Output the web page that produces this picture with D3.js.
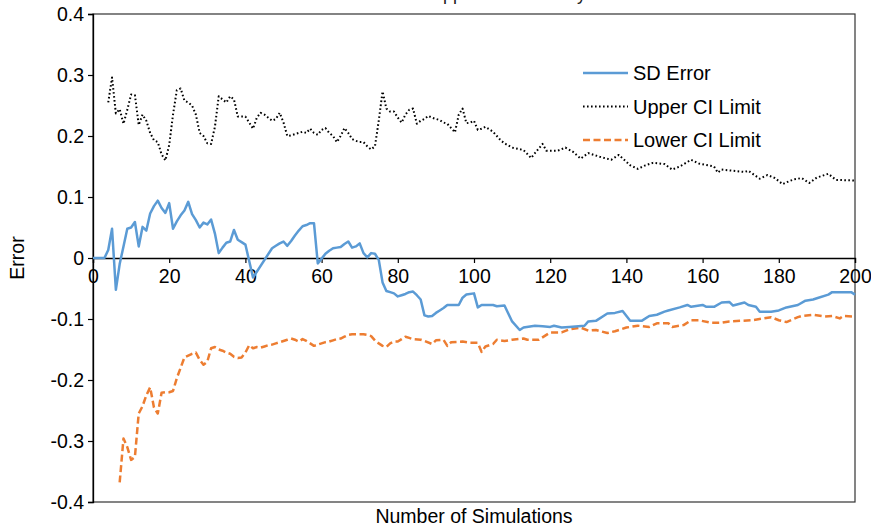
<!DOCTYPE html>
<html>
<head>
<meta charset="utf-8">
<script src="https://cdn.jsdelivr.net/npm/d3@7"></script>
<style>
  html, body { margin: 0; padding: 0; background: #fff; }
  svg { display: block; font-family: "Liberation Sans", Arial, sans-serif; }
</style>
</head>
<body>
<svg id="chart" width="871" height="531"></svg>
<script>
// Number of simulations (x) and the SD error estimate at each
const sdX   = [0,3,4,5,6,7,8,9,10,11,12,13,14,15,16,17,18,19,20,21,22,23,24,25,26,27,28,29,30,31,32,33,34,35,36,37,38,39,40,42,47,48,49,50,51,52,53,54,55,56,57,58,59,60,61,62,63,64,65,66,67,68,69,70,71,72,73,74,75,76,77,78,79,80,81,82,83,84,85,86,87,88,89,90,91,92,93,96,97,98,100,101,102,105,106,108,110,112,113,116,118,120,121,123,125,129,130,132,135,137,139,141,144,146,148,150,151,154,156,157,160,161,163,165,167,168,171,172,174,175,178,180,182,185,187,189,190,193,194,199,200];
const sdErr = [0,0,0.013,0.048,-0.052,-0.01,0.019,0.048,0.05,0.059,0.019,0.051,0.045,0.073,0.085,0.094,0.082,0.074,0.09,0.048,0.06,0.07,0.078,0.092,0.072,0.062,0.05,0.058,0.055,0.063,0.04,0.008,0.017,0.025,0.027,0.046,0.03,0.026,0.022,-0.032,0.016,0.02,0.024,0.027,0.02,0.028,0.037,0.045,0.052,0.054,0.057,0.057,-0.009,-0.001,0.007,0.012,0.016,0.017,0.018,0.023,0.027,0.017,0.019,0.024,0.008,0.001,0.008,0.007,-0.003,-0.04,-0.054,-0.056,-0.058,-0.063,-0.061,-0.059,-0.056,-0.055,-0.061,-0.068,-0.094,-0.096,-0.095,-0.09,-0.086,-0.082,-0.077,-0.077,-0.065,-0.06,-0.058,-0.081,-0.077,-0.077,-0.079,-0.078,-0.104,-0.118,-0.114,-0.111,-0.112,-0.113,-0.111,-0.114,-0.113,-0.111,-0.104,-0.103,-0.091,-0.09,-0.087,-0.103,-0.103,-0.095,-0.093,-0.088,-0.086,-0.081,-0.077,-0.08,-0.077,-0.08,-0.08,-0.073,-0.072,-0.078,-0.073,-0.077,-0.08,-0.088,-0.088,-0.086,-0.081,-0.077,-0.07,-0.068,-0.066,-0.06,-0.056,-0.056,-0.06];

// Upper confidence-interval limit
const upperX  = [4,5,6,7,8,9,10,11,12,13,14,15,16,17,18,19,20,21,22,23,24,25,26,27,28,29,30,31,32,33,34,35,36,37,38,39,40,41,42,43,44,45,46,47,48,49,50,51,52,53,54,55,56,57,58,59,60,61,62,63,64,65,66,67,68,69,70,71,72,73,74,75,76,77,78,79,80,81,82,83,84,85,86,87,88,89,90,91,92,93,94,95,96,97,98,99,100,101,102,103,104,105,106,107,108,110,113,115,116,118,119,122,124,126,128,130,133,136,138,141,143,145,147,150,152,154,157,159,163,164,165,168,171,172,175,177,179,181,182,184,186,188,190,193,195,200];
const upperCI = [0.255,0.296,0.237,0.244,0.22,0.243,0.268,0.267,0.218,0.235,0.225,0.205,0.193,0.19,0.17,0.16,0.185,0.235,0.275,0.278,0.258,0.255,0.25,0.235,0.205,0.2,0.188,0.187,0.215,0.265,0.26,0.255,0.265,0.26,0.232,0.232,0.232,0.222,0.212,0.23,0.238,0.235,0.23,0.225,0.228,0.238,0.222,0.2,0.201,0.203,0.205,0.207,0.205,0.212,0.205,0.202,0.21,0.213,0.205,0.2,0.19,0.2,0.213,0.205,0.195,0.192,0.19,0.19,0.183,0.178,0.183,0.225,0.273,0.245,0.24,0.24,0.23,0.222,0.235,0.243,0.245,0.22,0.225,0.228,0.233,0.23,0.228,0.226,0.222,0.22,0.213,0.206,0.235,0.245,0.221,0.222,0.225,0.21,0.212,0.215,0.211,0.207,0.2,0.193,0.188,0.181,0.177,0.164,0.172,0.187,0.176,0.176,0.181,0.174,0.163,0.172,0.166,0.161,0.169,0.152,0.146,0.152,0.156,0.154,0.145,0.15,0.161,0.155,0.15,0.14,0.145,0.143,0.141,0.143,0.13,0.136,0.131,0.121,0.124,0.129,0.131,0.123,0.132,0.138,0.128,0.127];

// Lower confidence-interval limit
const lowerX  = [7,8,9,10,11,12,13,14,15,16,17,18,19,20,21,22,23,24,25,26,27,28,29,30,31,32,33,34,35,36,37,38,39,40,41,42,43,44,45,46,47,48,49,50,51,52,53,54,55,56,57,58,59,60,61,62,63,64,65,66,67,68,69,70,71,72,73,74,75,76,77,78,79,80,81,82,83,84,86,87,89,90,92,93,94,97,99,101,102,103,105,106,108,110,113,114,117,119,120,123,125,128,130,132,135,137,140,143,146,148,151,152,155,157,159,162,165,167,170,173,176,178,180,182,185,186,189,192,194,196,197,200];
const lowerCI = [-0.368,-0.296,-0.31,-0.331,-0.326,-0.255,-0.243,-0.225,-0.212,-0.245,-0.255,-0.221,-0.22,-0.22,-0.218,-0.197,-0.18,-0.163,-0.16,-0.157,-0.155,-0.167,-0.175,-0.17,-0.148,-0.146,-0.15,-0.152,-0.155,-0.157,-0.162,-0.164,-0.163,-0.155,-0.143,-0.148,-0.146,-0.147,-0.145,-0.143,-0.142,-0.14,-0.138,-0.136,-0.134,-0.132,-0.134,-0.137,-0.133,-0.136,-0.14,-0.144,-0.142,-0.14,-0.138,-0.137,-0.135,-0.133,-0.132,-0.129,-0.126,-0.125,-0.125,-0.125,-0.125,-0.126,-0.128,-0.135,-0.14,-0.144,-0.146,-0.14,-0.137,-0.137,-0.133,-0.129,-0.131,-0.133,-0.134,-0.136,-0.141,-0.135,-0.134,-0.144,-0.138,-0.137,-0.139,-0.139,-0.154,-0.145,-0.141,-0.134,-0.136,-0.134,-0.132,-0.134,-0.134,-0.126,-0.122,-0.122,-0.117,-0.114,-0.119,-0.118,-0.123,-0.12,-0.114,-0.111,-0.113,-0.107,-0.107,-0.113,-0.11,-0.102,-0.102,-0.106,-0.106,-0.104,-0.103,-0.102,-0.099,-0.097,-0.102,-0.105,-0.097,-0.095,-0.093,-0.096,-0.095,-0.099,-0.095,-0.096];

const xTicks = [0,20,40,60,80,100,120,140,160,180,200];
const yTicks = [-0.4,-0.3,-0.2,-0.1,0,0.1,0.2,0.3,0.4];
const yTickLabels = ["-0.4","-0.3","-0.2","-0.1","0","0.1","0.2","0.3","0.4"];
const seriesNames = ["SD Error","Upper CI Limit","Lower CI Limit"];
const titleText = "Approach Accuracy";

const W = 871, H = 531;
const margin = {top: 14, right: 16, bottom: 29, left: 93};
const svg = d3.select("#chart");

const x = d3.scaleLinear().domain([0, 200]).range([margin.left, W - margin.right]);
const y = d3.scaleLinear().domain([-0.4, 0.4]).range([H - margin.bottom, margin.top]);

const FONT = 19.5;

// Chart title (sits mostly above the top edge of the page)
svg.append("text")
  .attr("x", 431).attr("y", 0)
  .attr("font-size", 18).attr("fill", "#222")
  .text(titleText);

// Plot frame
svg.append("rect")
  .attr("x", x(0)).attr("y", y(0.4))
  .attr("width", x(200) - x(0)).attr("height", y(-0.4) - y(0.4))
  .attr("fill", "none").attr("stroke", "#333").attr("stroke-width", 1.2);

// Y axis
const yAxis = d3.axisLeft(y).tickValues(yTicks).tickSize(5).tickPadding(4)
  .tickFormat((d, i) => yTickLabels[i]);
const gy = svg.append("g").attr("transform", `translate(${x(0)},0)`).call(yAxis);
gy.select(".domain").attr("stroke", "#000").attr("stroke-width", 1.3);
gy.selectAll(".tick line").attr("stroke", "#000").attr("stroke-width", 1.2);
gy.selectAll(".tick text").attr("font-size", FONT).attr("fill", "#000")
  .attr("font-family", "Liberation Sans, Arial, sans-serif");

// X axis on the zero line
const xAxis = d3.axisBottom(x).tickValues(xTicks).tickSize(5).tickPadding(6)
  .tickFormat(d3.format("d"));
const gx = svg.append("g").attr("transform", `translate(0,${y(0)})`).call(xAxis);
gx.select(".domain").attr("stroke", "#000").attr("stroke-width", 1.3);
gx.selectAll(".tick line").attr("stroke", "#000").attr("stroke-width", 1.2);
gx.selectAll(".tick text").attr("font-size", FONT).attr("fill", "#000")
  .attr("font-family", "Liberation Sans, Arial, sans-serif");

// Axis titles
svg.append("text")
  .attr("x", (x(0) + x(200)) / 2).attr("y", 523)
  .attr("text-anchor", "middle").attr("font-size", FONT).attr("fill", "#000")
  .text("Number of Simulations");
svg.append("text")
  .attr("transform", `translate(24,${y(0)}) rotate(-90)`)
  .attr("text-anchor", "middle").attr("font-size", FONT).attr("fill", "#000")
  .text("Error");

const line = d3.line().x(d => x(d[0])).y(d => y(d[1]));
const zip = (xs, ys) => xs.map((v, i) => [v, ys[i]]);

const styles = [
  {stroke: "#5B9BD5", width: 2.5, dash: null},
  {stroke: "#000000", width: 2, dash: "1.6 2.4"},
  {stroke: "#ED7D31", width: 2.5, dash: "7 3.5"}
];
const series = [zip(sdX, sdErr), zip(upperX, upperCI), zip(lowerX, lowerCI)];

const plot = svg.append("g");
// draw order: lower, upper, SD on top
[2, 1, 0].forEach(i => {
  plot.append("path")
    .datum(series[i])
    .attr("fill", "none")
    .attr("stroke", styles[i].stroke)
    .attr("stroke-width", styles[i].width)
    .attr("stroke-linejoin", "round")
    .attr("stroke-dasharray", styles[i].dash)
    .attr("d", line);
});

// Legend
const legend = svg.append("g");
seriesNames.forEach((name, i) => {
  const cy = 73 + i * 33.5;
  legend.append("line")
    .attr("x1", 583).attr("x2", 628).attr("y1", cy).attr("y2", cy)
    .attr("stroke", styles[i].stroke).attr("stroke-width", styles[i].width)
    .attr("stroke-dasharray", styles[i].dash);
  legend.append("text")
    .attr("x", 633).attr("y", cy + 7)
    .attr("font-size", 20).attr("fill", "#000")
    .text(name);
});
</script>
</body>
</html>
